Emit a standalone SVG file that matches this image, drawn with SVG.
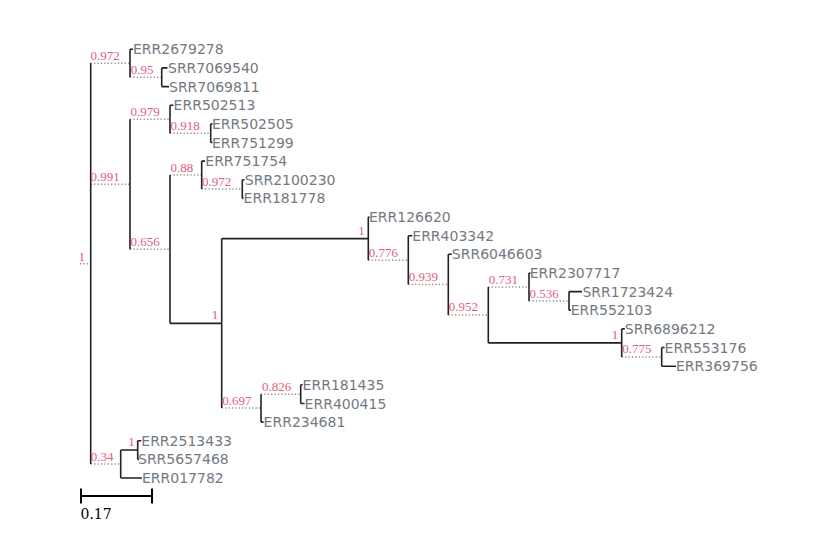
<svg xmlns="http://www.w3.org/2000/svg" width="825" height="545" viewBox="0 0 825 545">
<style>
.s{stroke:#222;stroke-width:1.6;fill:none}
.d{stroke:#8a8a8a;stroke-width:1.5;stroke-dasharray:1.2 2.2;fill:none}
.leaf{font-family:"DejaVu Sans",sans-serif;font-size:14px;fill:#73797f}
.sup{font-family:"Liberation Serif","Times New Roman",serif;font-size:13px;fill:#e2607a}
.e{text-anchor:end}
</style>
<rect width="825" height="545" fill="#fff"/>
<g id="connectors">
<path class="d" d="M80,263.7H90.7 M90.7,63.3H130 M130,77.3H161.7 M90.7,184.2H130 M130,119.2H170 M170,133.2H210.7 M130,249.2H170 M170,175.1H201.7 M201.7,189.1H242.3 M368.3,260.2H408.3 M408.3,284.6H448.3 M448.3,314.9H488.3 M488.3,287H529 M529,301H569 M621.7,356.9H661.7 M221.7,408.1H261 M261,394.2H300.7 M90.7,464H120.7"/>
<path class="s" d="M170,323.4H221.7 M221.7,238.6H368.3 M488.3,342.9H621.7 M120.7,450H137.7"/>
<path class="s" d="M90.7,63.3V464 M130,49.3V77.3 M161.7,67.9V86.6 M130,119.2V249.2 M170,105.2V133.2 M210.7,123.9V142.5 M170,175.1V323.4 M201.7,161.1V189.1 M242.3,179.8V198.4 M221.7,238.6V408.1 M368.3,217.1V260.2 M408.3,235.7V284.6 M448.3,254.3V314.9 M488.3,287V342.9 M529,273V301 M569,291.6V310.3 M621.7,328.9V356.9 M661.7,347.5V366.2 M261,394.2V422.1 M300.7,384.8V403.5 M120.7,450V478 M137.7,440.7V459.4"/>
<path class="s" d="M130,49.3H133 M161.7,67.9H167.5 M161.7,86.6H169 M170,105.2H173.5 M210.7,123.9H212.5 M210.7,142.5H212.5 M201.7,161.1H205 M242.3,179.8H244.5 M242.3,198.4H243.5 M368.3,217.1H369.5 M408.3,235.7H412.3 M448.3,254.3H451.8 M529,273H530.5 M569,291.6H582 M569,310.3H571 M621.7,328.9H624.8 M661.7,347.5H664.6 M661.7,366.2H676 M300.7,384.8H302.6 M300.7,403.5H304.6 M261,422.1H263.6 M137.7,440.7H141.3 M137.7,459.4H139 M120.7,478H142"/>
</g>
<g id="root"><text class="sup e" x="85" y="261">1</text></g>
<g id="n_A"><text class="sup" x="90.5" y="59.8">0.972</text></g>
<g id="n_B"><text class="sup" x="130.8" y="73.7">0.95</text></g>
<g id="n_C"><text class="sup" x="90.5" y="180.7">0.991</text></g>
<g id="n_E"><text class="sup" x="130.5" y="115.7">0.979</text></g>
<g id="n_F"><text class="sup" x="170.5" y="129.7">0.918</text></g>
<g id="n_G"><text class="sup" x="130.5" y="245.7">0.656</text></g>
<g id="n_H"><text class="sup" x="170.5" y="171.6">0.88</text></g>
<g id="n_I"><text class="sup" x="202" y="185.6">0.972</text></g>
<g id="n_J"><text class="sup e" x="218.3" y="319.4">1</text></g>
<g id="n_K"><text class="sup e" x="364.8" y="234.5">1</text></g>
<g id="n_L"><text class="sup" x="368.8" y="256.7">0.776</text></g>
<g id="n_M"><text class="sup" x="408.8" y="281.1">0.939</text></g>
<g id="n_N"><text class="sup" x="448.8" y="311.4">0.952</text></g>
<g id="n_O"><text class="sup" x="488.8" y="283.5">0.731</text></g>
<g id="n_P"><text class="sup" x="529.5" y="297.5">0.536</text></g>
<g id="n_Q"><text class="sup e" x="618.3" y="338.9">1</text></g>
<g id="n_R"><text class="sup" x="622.2" y="353.4">0.775</text></g>
<g id="n_S"><text class="sup" x="222.2" y="404.6">0.697</text></g>
<g id="n_T"><text class="sup" x="262" y="390.7">0.826</text></g>
<g id="n_D"><text class="sup" x="90.7" y="460.5">0.34</text></g>
<g id="n_U"><text class="sup e" x="134.8" y="446">1</text></g>
<g id="leaf_ERR2679278"><text class="leaf" x="133" y="54.3">ERR2679278</text></g>
<g id="leaf_SRR7069540"><text class="leaf" x="168" y="72.9">SRR7069540</text></g>
<g id="leaf_SRR7069811"><text class="leaf" x="169" y="91.6">SRR7069811</text></g>
<g id="leaf_ERR502513"><text class="leaf" x="173.6" y="110.2">ERR502513</text></g>
<g id="leaf_ERR502505"><text class="leaf" x="212" y="128.9">ERR502505</text></g>
<g id="leaf_ERR751299"><text class="leaf" x="212" y="147.5">ERR751299</text></g>
<g id="leaf_ERR751754"><text class="leaf" x="205.3" y="166.1">ERR751754</text></g>
<g id="leaf_SRR2100230"><text class="leaf" x="244.8" y="184.8">SRR2100230</text></g>
<g id="leaf_ERR181778"><text class="leaf" x="243.6" y="203.4">ERR181778</text></g>
<g id="leaf_ERR126620"><text class="leaf" x="369" y="222.1">ERR126620</text></g>
<g id="leaf_ERR403342"><text class="leaf" x="412.3" y="240.7">ERR403342</text></g>
<g id="leaf_SRR6046603"><text class="leaf" x="451.8" y="259.3">SRR6046603</text></g>
<g id="leaf_ERR2307717"><text class="leaf" x="529.7" y="278">ERR2307717</text></g>
<g id="leaf_SRR1723424"><text class="leaf" x="582.4" y="296.6">SRR1723424</text></g>
<g id="leaf_ERR552103"><text class="leaf" x="570.7" y="315.3">ERR552103</text></g>
<g id="leaf_SRR6896212"><text class="leaf" x="624.8" y="333.9">SRR6896212</text></g>
<g id="leaf_ERR553176"><text class="leaf" x="664.6" y="352.5">ERR553176</text></g>
<g id="leaf_ERR369756"><text class="leaf" x="676" y="371.2">ERR369756</text></g>
<g id="leaf_ERR181435"><text class="leaf" x="302.6" y="389.8">ERR181435</text></g>
<g id="leaf_ERR400415"><text class="leaf" x="304.6" y="408.5">ERR400415</text></g>
<g id="leaf_ERR234681"><text class="leaf" x="263.6" y="427.1">ERR234681</text></g>
<g id="leaf_ERR2513433"><text class="leaf" x="141.3" y="445.7">ERR2513433</text></g>
<g id="leaf_SRR5657468"><text class="leaf" x="138" y="464.4">SRR5657468</text></g>
<g id="leaf_ERR017782"><text class="leaf" x="142" y="483">ERR017782</text></g>
<g id="scale">
<path d="M81,496H152 M81,488.5V503.5 M152,488.5V503.5" stroke="#000" stroke-width="2" fill="none"/>
<text x="80.5" y="518.5" font-family="DejaVu Serif,serif" font-size="14px" fill="#000">0.17</text>
</g>
</svg>
